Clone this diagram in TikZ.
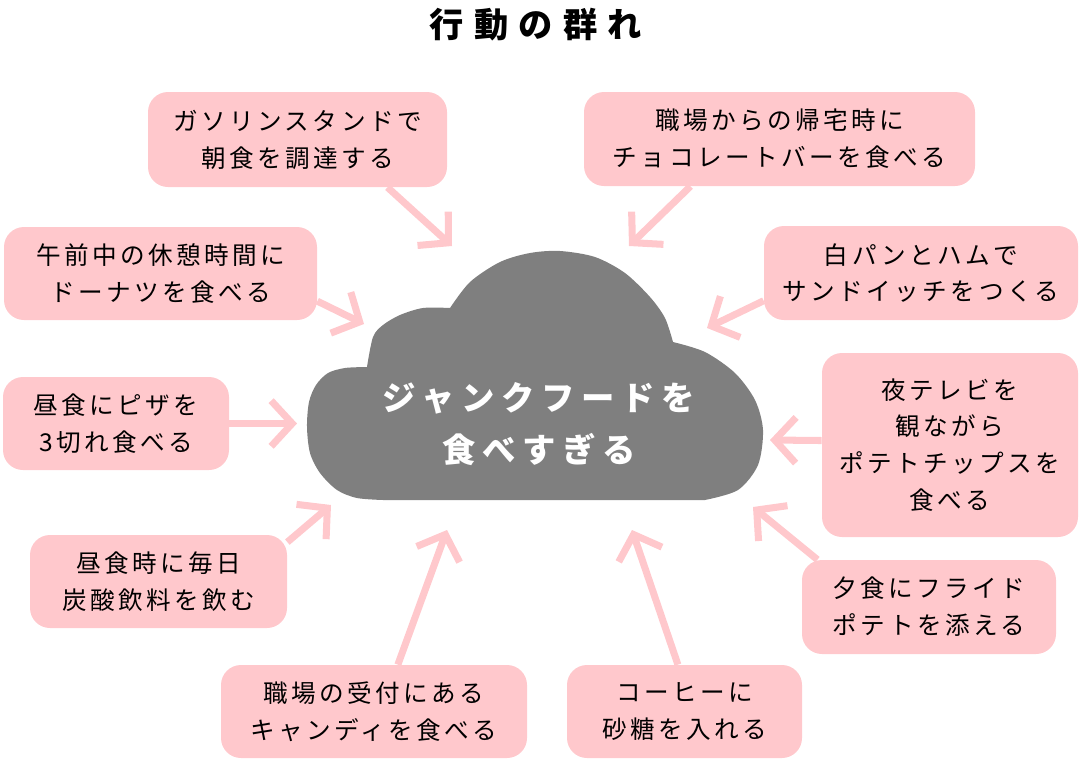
\documentclass[tikz,border=0pt]{standalone}
\usepackage{fontspec}
\usepackage{tikz}
\usetikzlibrary{arrows.meta}
\newfontfamily\jpfont{Noto Sans CJK JP}[LetterSpace=14]
\newfontfamily\jpcloud{Noto Sans CJK JP}[LetterSpace=20]
\newfontfamily\jptitle{Noto Sans CJK JP}[LetterSpace=30]
\definecolor{boxpink}{HTML}{FFC8CC}
\definecolor{cloudgray}{HTML}{7F7F7F}
\tikzset{
  pinkbox/.style 2 args={fill=boxpink, rounded corners=0.4cm, inner sep=0pt,
    minimum width=#1*0.02cm, minimum height=#2*0.02cm, align=center,
    font=\jpfont\fontsize{14pt}{21pt}\selectfont},
  pinkarrow/.style={draw=boxpink, line width=4pt, -{Straight Barb[length=12pt,width=26pt]}},
  cloudtext/.style={text=white, align=center, font=\jpcloud\bfseries\fontsize{19pt}{29.5pt}\selectfont},
}

\begin{document}
\begin{tikzpicture}[x=0.02cm, y=-0.02cm]
		\useasboundingbox (0,0) rectangle (1080,771);
		% title
		\node(title)[font=\jptitle\bfseries\fontsize{19.5pt}{19.5pt}\selectfont] at (536,25){行動の群れ};
		% cloud
		\fill[cloudgray] plot[smooth] coordinates {(383,500) (357,498) (337,490) (320,473) (310,453) (307,427) (309,402) (316,385) (328,373) (345,368) (367,367)}
			-- plot[smooth] coordinates {(367,367) (373,337) (383,325) (400,315) (423,308) (450,308)}
			-- plot[smooth] coordinates {(450,308) (470,282) (500,262) (530,253) (560,251) (595,257) (625,273) (650,297) (665,318) (673,342)}
			-- plot[smooth] coordinates {(673,342) (705,352) (735,373) (755,400) (763,430) (758,465) (738,490) (705,500)}
			-- cycle;
		\node(junk)[cloudtext] at (539,424){ジャンクフードを\\食べすぎる};
		% boxes
		\node(gas)[pinkbox={299}{95}] at (297.5,139.5){ガソリンスタンドで\\朝食を調達する};
		\node(choco)[pinkbox={391}{94}] at (779.5,139){職場からの帰宅時に\\チョコレートバーを食べる};
		\node(donut)[pinkbox={313}{93}] at (160.5,273.5){午前中の休憩時間に\\ドーナツを食べる};
		\node(sand)[pinkbox={314}{94}] at (921,273){白パンとハムで\\サンドイッチをつくる};
		\node(pizza)[pinkbox={226}{93}] at (116,423.5){昼食にピザを\\3切れ食べる};
		\node(chips)[pinkbox={256}{184}] at (950,445){夜テレビを\\観ながら\\ポテトチップスを\\食べる};
		\node(soda)[pinkbox={257}{93}] at (158.5,581.5){昼食時に毎日\\炭酸飲料を飲む};
		\node(fries)[pinkbox={254}{94}] at (929,607){夕食にフライド\\ポテトを添える};
		\node(candy)[pinkbox={306}{93}] at (374,711.5){職場の受付にある\\キャンディを食べる};
		\node(coffee)[pinkbox={235}{93}] at (684.5,711.5){コーヒーに\\砂糖を入れる};
		% arrow tips near the cloud
		\coordinate(gastip) at (452,246);
		\coordinate(chocotip) at (629,246);
		\coordinate(donuttip) at (364,324);
		\coordinate(sandtip) at (707,328);
		\coordinate(pizzatip) at (297,423.5);
		\coordinate(chipstip) at (770,440);
		\coordinate(sodatip) at (331,505);
		\coordinate(friestip) at (753,507);
		\coordinate(candytip) at (447,530);
		\coordinate(coffeetip) at (632,530);
		\draw[pinkarrow](gas.-28.5) -- (gastip);
		\draw[pinkarrow](choco.208.5) -- (chocotip);
		\draw[pinkarrow](donut.-10.3) -- (donuttip);
		\draw[pinkarrow](sand.190.1) -- (sandtip);
		\draw[pinkarrow](pizza.0) -- (pizzatip);
		\draw[pinkarrow](chips.178) -- (chipstip);
		\draw[pinkarrow](soda.17.6) -- (sodatip);
		\draw[pinkarrow](fries.157) -- (friestip);
		\draw[pinkarrow](candy.63.7) -- (candytip);
		\draw[pinkarrow](coffee.98) -- (coffeetip);
	\end{tikzpicture}
\end{document}
